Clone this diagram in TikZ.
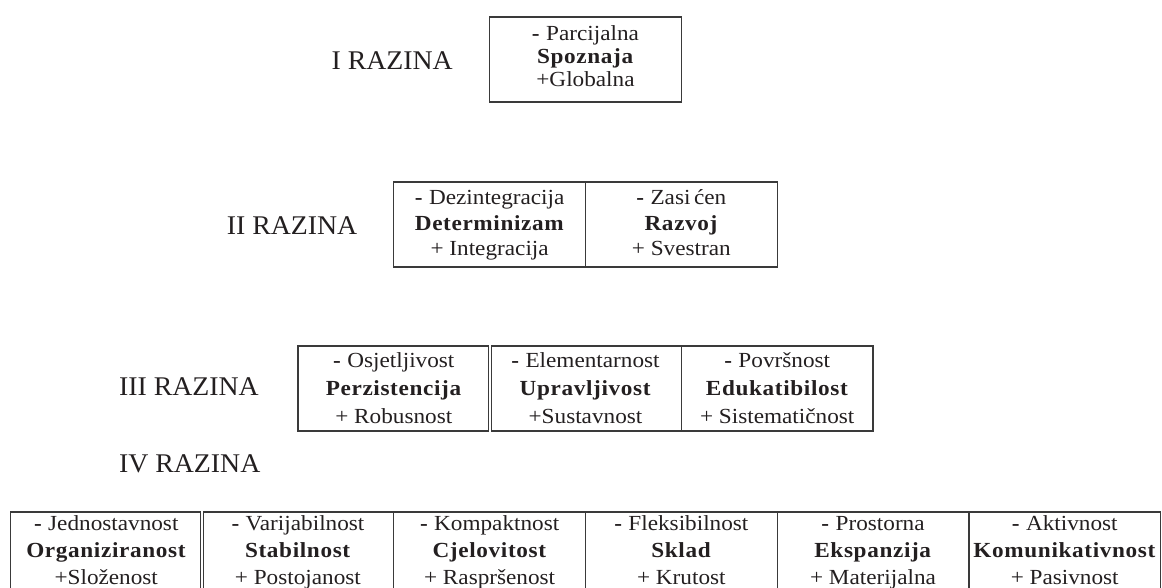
\documentclass[tikz,border=0pt]{standalone}
\usepackage{fontspec}
\setmainfont{Liberation Serif}[FakeStretch=1.08, BoldFeatures={LetterSpace=3}]
\newfontfamily\lvlfont{Liberation Serif}[FakeStretch=1.03]
\definecolor{ink}{HTML}{231F20}
\definecolor{rulec}{HTML}{3A3A3A}
\tikzset{
  cell/.style={anchor=base, inner sep=0pt, text=ink, font=\fontsize{21.5}{23}\selectfont},
  lvl/.style={anchor=base east, inner sep=0pt, text=ink, font=\lvlfont\fontsize{27}{30}\selectfont},
  frame/.style={draw=rulec, line width=1.2pt}
}
% name, x-centre, baseline 1, baseline 2, baseline 3, minus line, bold line, plus line
\newcommand\mycell[8]{%
  \node[cell] (#1m) at ({#2},{#3}) {#6};
  \node[cell] (#1b) at ({#2},{#4}) {\textbf{#7}};
  \node[cell] (#1p) at ({#2},{#5}) {#8};
}
\begin{document}
\begin{tikzpicture}[x=1pt,y=-1pt]
\useasboundingbox (0,0) rectangle (1162,588);
\clip (0,0) rectangle (1162,588);
% ---------- level I
\draw[frame] (489.65,17) rectangle (681.35,102);
\mycell{a}{585.5}{41}{64}{87}{\textbf{-} Parcijalna}{Spoznaja}{+Globalna}
\node[lvl] (l1) at (453,70) {I RAZINA};
% ---------- level II
\draw[frame] (393.8,182) rectangle (777.2,267);
\draw[frame] (585.5,182) -- (585.5,267);
\mycell{b1}{489.65}{205}{230}{255}{\textbf{-} Dezintegracija}{Determinizam}{+ Integracija}
\mycell{b2}{681.35}{205}{230}{255}{\textbf{-} Zasi\,ćen}{Razvoj}{+ Svestran}
\node[lvl] (l2) at (357.5,235) {II RAZINA};
% ---------- level III
\draw[frame] (297.95,346) rectangle (488.2,431);
\draw[frame] (491.1,346) rectangle (873.05,431);
\draw[frame] (681.35,346) -- (681.35,431);
\mycell{c1}{393.8}{367}{395}{423}{\textbf{-} Osjetljivost}{Perzistencija}{+ Robusnost}
\mycell{c2}{585.5}{367}{395}{423}{\textbf{-} Elementarnost}{Upravljivost}{+Sustavnost}
\mycell{c3}{777.2}{367}{395}{423}{\textbf{-} Površnost}{Edukatibilost}{+ Sistematičnost}
\node[lvl] (l3) at (259,395) {III RAZINA};
% ---------- level IV
\node[lvl, anchor=base west] (l4) at ([yshift=-77pt]l3.base west) {IV RAZINA};
\draw[frame] (10.4,590) -- (10.4,512) -- (200.65,512) -- (200.65,590);
\draw[frame] (203.55,590) -- (203.55,512) -- (1160.6,512) -- (1160.6,590);
\foreach \xx in {393.8,585.5,777.2,968.9} {\draw[frame] (\xx,512) -- (\xx,590);}
\mycell{d1}{106.25}{530}{557}{584}{\textbf{-} Jednostavnost}{Organiziranost}{+Složenost}
\mycell{d2}{297.95}{530}{557}{584}{\textbf{-} Varijabilnost}{Stabilnost}{+ Postojanost}
\mycell{d3}{489.65}{530}{557}{584}{\textbf{-} Kompaktnost}{Cjelovitost}{+ Raspršenost}
\mycell{d4}{681.35}{530}{557}{584}{\textbf{-} Fleksibilnost}{Sklad}{+ Krutost}
\mycell{d5}{873.05}{530}{557}{584}{\textbf{-} Prostorna}{Ekspanzija}{+ Materijalna}
\mycell{d6}{1064.75}{530}{557}{584}{\textbf{-} Aktivnost}{Komunikativnost}{+ Pasivnost}
\end{tikzpicture}
\end{document}
